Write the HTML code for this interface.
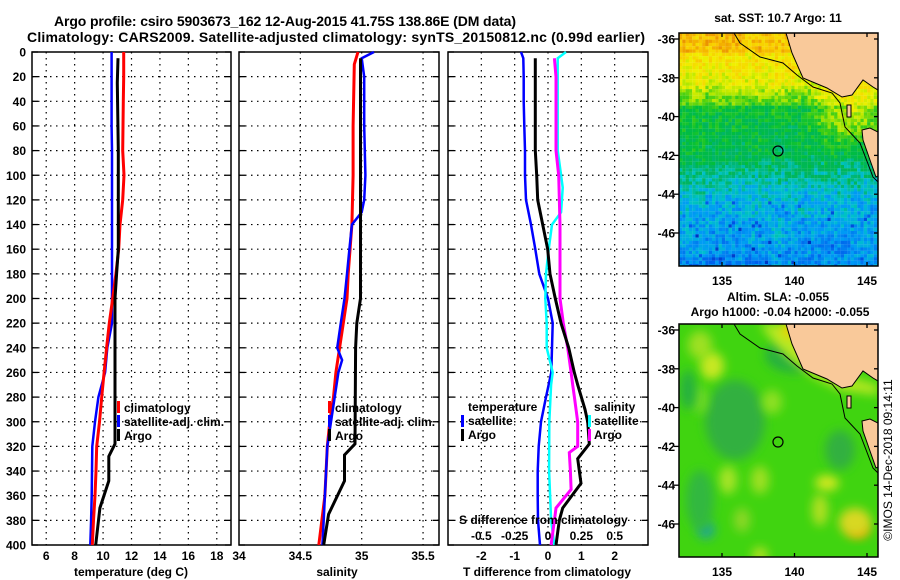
<!DOCTYPE html>
<html><head><meta charset="utf-8">
<style>
html,body{margin:0;padding:0;background:#fff;}
svg{display:block;font-family:"Liberation Sans",sans-serif;font-weight:bold;}
</style></head>
<body>
<svg id="fig" width="900" height="580" viewBox="0 0 900 580" xmlns="http://www.w3.org/2000/svg">
<rect width="900" height="580" fill="#fff"/>
<text x="285" y="26" font-size="14" text-anchor="middle" textLength="462">Argo profile: csiro 5903673_162 12-Aug-2015 41.75S 138.86E (DM data)</text>
<text x="336" y="42" font-size="14" text-anchor="middle" textLength="618">Climatology: CARS2009. Satellite-adjusted climatology: synTS_20150812.nc (0.99d earlier)</text>
<g id="panels"></g>
<g id="maps"></g>
</svg>
<script>
// ---------- depth axis ----------
const depthTicks = [0,20,40,60,80,100,120,140,160,180,200,220,240,260,280,300,320,340,360,380,400];
// ---------- panel 1: temperature ----------
const climTDepth = [0,20,40,60,80,100,120,140,160,180,200,220,240,260,280,300,320,340,360,380,400];
const climT = [11.45,11.45,11.42,11.4,11.38,11.47,11.38,11.19,11.1,10.9,10.68,10.44,10.25,10.07,9.9,9.75,9.55,9.5,9.43,9.33,9.24];
const satTDepth = [0,20,40,60,80,100,120,140,160,180,200,220,240,260,280,300,320,340,360,380,400];
const satT = [10.6,10.6,10.6,10.6,10.63,10.63,10.63,10.63,10.63,10.63,10.63,10.63,10.3,10.14,9.67,9.43,9.24,9.22,9.2,9.16,9.1];
const argoTDepth = [5,25,80,160,180,200,318,328,348,370,400];
const argoT = [11.05,11.0,11.07,11.07,10.95,10.84,10.84,10.4,10.4,9.78,9.48];
const tempTicks = [6,8,10,12,14,16,18];
// ---------- panel 2: salinity ----------
const climSDepth = [0,10,60,100,140,180,200,220,240,260,280,300,320,360,400];
const climS = [34.97,34.94,34.93,34.93,34.92,34.89,34.88,34.85,34.82,34.79,34.77,34.74,34.72,34.70,34.65];
const satSDepth = [0,5,20,60,100,120,130,140,160,180,200,220,240,250,260,280,300,320,340,380,400];
const satS = [35.1,35.0,35.02,35.02,35.03,35.02,35.0,34.92,34.90,34.88,34.86,34.83,34.80,34.84,34.81,34.78,34.75,34.72,34.71,34.69,34.68];
const argoSDepth = [5,60,200,220,240,318,327,348,375,400];
const argoS = [34.99,34.99,34.99,34.96,34.95,34.945,34.86,34.86,34.73,34.69];
const salTicks = [34.5,35,35.5];
// ---------- panel 3: differences ----------
const satTdDepth = [0,5,20,40,60,80,100,120,140,160,180,200,220,240,260,280,300,320,340,360,380,400];
const satTd = [-0.81,-0.74,-0.73,-0.73,-0.71,-0.69,-0.69,-0.66,-0.51,-0.38,-0.26,0,0.14,0.12,0.1,-0.06,-0.21,-0.28,-0.31,-0.31,-0.3,-0.24];
const argoTdDepth = [5,80,100,120,140,160,180,200,220,240,260,270,290,300,318,330,350,370,380,400];
const argoTd = [-0.38,-0.38,-0.34,-0.31,-0.16,-0.01,0.06,0.22,0.39,0.62,0.79,0.89,1.11,1.19,1.24,0.89,0.99,0.44,0.34,0.24];
const argoSdDepth = [5,20,80,100,140,200,220,240,260,270,280,300,320,325,340,355,370,380,400];
const argoSd = [0.048,0.06,0.06,0.08,0.09,0.09,0.115,0.148,0.173,0.185,0.198,0.223,0.223,0.16,0.168,0.173,0.06,0.048,0.023];
const satSdDepth = [0,5,20,80,100,110,130,140,160,180,200,220,240,260,270,300,340,380,400];
const satSd = [0.135,0.073,0.073,0.073,0.098,0.11,0.098,0.03,0.005,-0.015,-0.02,-0.01,-0.01,0.035,0.023,0.01,0.008,0.023,0.048];
const tdTicks = [-2,-1,0,1,2];
const sdTicks = [-0.5,-0.25,0,0.25,0.5];
const sdTickLabels = ['-0.5','-0.25','0','0.25','0.5'];

const NS='http://www.w3.org/2000/svg';
function mk(tag, attrs, parent){const e=document.createElementNS(NS,tag);for(const k in attrs)e.setAttribute(k,attrs[k]);parent.appendChild(e);return e;}
const TOP=52, BOT=545;
const yD = d => TOP + d*(BOT-TOP)/400;
const x1 = t => 32 + (t-5)*199/14;
const x2 = s => 239 + (s-34)*200/1.63;
const x3 = t => 448 + (t+3)*200/6;
const x3s = s => x3(s*4);
const panels = document.getElementById('panels');

function frame(name, L, R, vticks, vx){
  const g = mk('g',{},panels);
  
  
  depthTicks.forEach(d=>{
    if(d>0 && d<400) mk('line',{x1:L,x2:R,y1:yD(d),y2:yD(d),stroke:'#000','stroke-width':1.2,'stroke-dasharray':'1.5,4.5'},g);
    mk('line',{x1:L,x2:L+6,y1:yD(d),y2:yD(d),stroke:'#000','stroke-width':1.3},g);
    mk('line',{x1:R-6,x2:R,y1:yD(d),y2:yD(d),stroke:'#000','stroke-width':1.3},g);
  });
  vticks.forEach(v=>{
    const x=vx(v);
    mk('line',{x1:x,x2:x,y1:TOP,y2:BOT,stroke:'#000','stroke-width':1.2,'stroke-dasharray':'1.5,4.5'},g);
  });
  mk('rect',{x:L,y:TOP,width:R-L,height:BOT-TOP,fill:'none',stroke:'#000','stroke-width':1.5},g);
  return g;
}
function line(g, depths, vals, xf, color, w, name){
  const pts = depths.map((d,i)=>xf(vals[i]).toFixed(1)+','+yD(d).toFixed(1)).join(' ');
  const p = mk('polyline',{points:pts,fill:'none',stroke:color,'stroke-width':w,'stroke-linejoin':'miter'},g);
  
  
}
function txt(g,x,y,s,size,anchor,name){
  const t=mk('text',{x:x,y:y,'font-size':size,'text-anchor':anchor||'start'},g);
  t.textContent=s;
  
  
  return t;
}
const yl = mk('g',{},panels);


depthTicks.forEach(d=>{ txt(yl,26,yD(d)+4.5,String(d),12,'end','depth-tick-label'); });

// panel 1
const g1 = frame('temperature-panel',32,231,tempTicks,x1);
line(g1,satTDepth,satT,x1,'#0000ff',2.5,'satellite-temperature-line');
line(g1,climTDepth,climT,x1,'#ff0000',3,'climatology-temperature-line');
line(g1,argoTDepth,argoT,x1,'#000',3,'argo-temperature-line');
tempTicks.forEach(t=>txt(g1,x1(t),560,String(t),12,'middle','temperature-tick-label'));
txt(g1,131,576,'temperature (deg C)',12,'middle','x-axis-title-temperature');
[['#ff0000','climatology'],['#0000ff','satellite-adj. clim.'],['#000','Argo']].forEach((l,i)=>{
  const r=mk('rect',{x:117,y:401+i*14,width:3,height:12,fill:l[0]},g1);
  
  
  txt(g1,124,412+i*14,l[1],12,'start','legend-entry');
});

// panel 2
const g2 = frame('salinity-panel',239,439,salTicks,x2);
line(g2,climSDepth,climS,x2,'#ff0000',3,'climatology-salinity-line');
line(g2,satSDepth,satS,x2,'#0000ff',2.5,'satellite-salinity-line');
line(g2,argoSDepth,argoS,x2,'#000',3,'argo-salinity-line');
[34,34.5,35,35.5].forEach(s=>txt(g2,x2(s),560,String(s),12,'middle','salinity-tick-label'));
txt(g2,337,576,'salinity',12,'middle','x-axis-title-salinity');
[['#ff0000','climatology'],['#0000ff','satellite-adj. clim.'],['#000','Argo']].forEach((l,i)=>{
  const r=mk('rect',{x:328,y:401+i*14,width:3,height:12,fill:l[0]},g2);
  
  
  txt(g2,335,412+i*14,l[1],12,'start','legend-entry');
});

// panel 3
const g3 = frame('difference-panel',448,648,tdTicks,x3);
line(g3,satTdDepth,satTd,x3,'#0000ff',2.5,'satellite-temperature-difference-line');
line(g3,satSdDepth,satSd,x3s,'#00ffff',2.5,'satellite-salinity-difference-line');
line(g3,argoSdDepth,argoSd,x3s,'#ff00ff',3,'argo-salinity-difference-line');
line(g3,argoTdDepth,argoTd,x3,'#000',3,'argo-temperature-difference-line');
tdTicks.forEach(t=>txt(g3,x3(t),560,String(t),12,'middle','t-difference-tick-label'));
sdTicks.forEach((s,i)=>txt(g3,x3s(s),540,sdTickLabels[i],12,'middle','s-difference-tick-label'));
txt(g3,459,524,'S difference from climatology',12,'start','s-difference-axis-title');
txt(g3,547,576,'T difference from climatology',12,'middle','x-axis-title-difference');
txt(g3,468,411,'temperature',12,'start','legend-title-temperature');
txt(g3,594,411,'salinity',12,'start','legend-title-salinity');
[['#0000ff','satellite',461,468],['#000','Argo',461,468],['#00ffff','satellite',588,594],['#ff00ff','Argo',588,594]].forEach((l,i)=>{
  const row=(i%2);
  const r=mk('rect',{x:l[2],y:415+row*14,width:3,height:12,fill:l[0]},g3);
  
  
  txt(g3,l[3],425+row*14,l[1],12,'start','legend-entry');
});

// ---------- maps ----------
const maps = document.getElementById('maps');
const ML=679, MR=878;
const lonX = lo => 722 + (lo-135)*14.5;
const latTicks=[-36,-38,-40,-42,-44,-46];
const lonTicks=[135,140,145];
function hash(i,j){let h=(i*374761393+j*668265263)^0x5bd1e995;h=(h^(h>>>13))*1274126177;h=h^(h>>>16);return ((h>>>0)%1000)/1000;}
const pal=[[0.08,[0,30,170]],[0.2,[0,90,235]],[0.3,[0,155,245]],[0.38,[0,195,200]],[0.45,[0,180,100]],[0.52,[0,190,60]],[0.6,[60,205,20]],[0.68,[170,230,0]],[0.76,[240,240,0]],[0.86,[250,200,0]],[0.96,[230,130,0]]];
function col(v){v=Math.max(0.08,Math.min(0.96,v));for(let k=1;k<pal.length;k++){if(v<=pal[k][0]){const a=pal[k-1],b=pal[k];const f=(v-a[0])/(b[0]-a[0]);return 'rgb('+a[1].map((c,n)=>Math.round(c+(b[1][n]-c)*f)).join(',')+')';}}return 'rgb(230,130,0)';}
function land(dy){
  return [[[786,33],[792,53],[803,78],[827,88],[842,97],[852,95],[863,80],[873,87],[878,90],[878,33]],
          [[862,130],[870,128],[878,132],[878,176],[876,177],[870,160],[863,140]]]
         .map(p=>p.map(q=>q[0]+','+(q[1]+dy)).join(' '));
}
const shelf=[[734,33],[740,43],[760,57],[783,63],[797,75],[813,87],[832,93],[840,103],[845,127],[860,143],[873,177],[878,182]];
function mapFrame(name,T,B,title1,title2,fill){
  const g=mk('g',{},maps);
  
  
  const cp=mk('clipPath',{id:name+'-clip'},g);
  mk('rect',{x:ML,y:T,width:MR-ML,height:B-T},cp);
  const inner=mk('g',{'clip-path':'url(#'+name+'-clip)'},g);
  fill(inner,T,B);
  const dy=T-33;
  land(dy).forEach(p=>{const pl=mk('polygon',{points:p,fill:'#f9c99a',stroke:'#000','stroke-width':1},inner);});
  mk('polyline',{points:shelf.map(q=>q[0]+','+(q[1]+dy)).join(' '),fill:'none',stroke:'#000','stroke-width':1},inner);
  mk('rect',{x:847,y:105+dy,width:4,height:12,fill:'#f9c99a',stroke:'#000','stroke-width':1},inner);
  const c=mk('circle',{cx:778,cy:151+dy,r:5,fill:'none',stroke:'#000','stroke-width':1.2},g);
  
  
  mk('rect',{x:ML,y:T,width:MR-ML,height:B-T,fill:'none',stroke:'#000','stroke-width':1.5},g);
  latTicks.forEach(la=>{const y=T+6+(-36-la)*19.4;
    mk('line',{x1:ML-5,x2:ML,y1:y,y2:y,stroke:'#000','stroke-width':1.3},g);
    mk('line',{x1:MR-4,x2:MR,y1:y,y2:y,stroke:'#000','stroke-width':1.3},g);
    txt(g,675,y+4.5,String(la),12,'end','latitude-tick-label');});
  lonTicks.forEach(lo=>{const x=lonX(lo);
    mk('line',{x1:x,x2:x,y1:B-4,y2:B,stroke:'#000','stroke-width':1.3},g);
    mk('line',{x1:x,x2:x,y1:T,y2:T+4,stroke:'#000','stroke-width':1.3},g);
    txt(g,x,B+19,String(lo),12,'middle','longitude-tick-label');});
  if(title2){txt(g,778,T-23,title1,12,'middle','map-title');txt(g,780,T-8,title2,12,'middle','map-subtitle');}
  else txt(g,778,T-11,title1,12,'middle','map-title');
}
mapFrame('sst-map',33,266,'sat. SST: 10.7 Argo: 11',null,(g,T,B)=>{
  const cs=3.3;
  for(let j=0;j*cs<B-T;j++){for(let i=0;i*cs<MR-ML;i++){
    const f=(j*cs)/(B-T), xf=(i*cs)/(MR-ML);
    let v;
    if(f<0.08)v=0.86;else if(f<0.22)v=0.8-(f-0.08)*0.4;else if(f<0.3)v=0.72-(f-0.22)*1.5;else if(f<0.55)v=0.53-(f-0.3)*0.2;else if(f<0.7)v=0.47-(f-0.55)*0.8;else v=0.35-(f-0.7)*0.25;
    const coast=Math.max(0,0.25-Math.hypot(xf-0.85,(f-0.35)*1.3))*0.8;
    v+=coast+(hash(i,j)-0.5)*0.12+(hash(i>>2,j>>2)-0.5)*0.05;
    if(f>0.72&&hash(i+7,j+3)>0.96)v-=0.12;
    mk('rect',{x:ML+i*cs,y:T+j*cs,width:cs+0.1,height:cs+0.1,fill:col(v)},g);
  }}
});
mapFrame('sla-map',324,557,'Altim. SLA: -0.055','Argo h1000: -0.04 h2000: -0.055',(g,T,B)=>{
  const f=mk('filter',{id:'blur6',x:'-50%',y:'-50%',width:'200%',height:'200%'},g);
  mk('feGaussianBlur',{stdDeviation:5},f);
  mk('rect',{x:ML,y:T,width:MR-ML,height:B-T,fill:'#40d410'},g);
  const blobs=[[700,345,'#9ee020',12,14],[712,366,'#c8e820',12,14],[735,420,'#30b040',30,40],[700,400,'#70d828',8,14],[772,402,'#8ee020',10,12],[795,355,'#28b040',30,18],[728,480,'#a6e428',9,14],[760,480,'#9ee020',9,14],[827,483,'#d0e820',12,8],[820,510,'#b0e020',8,16],[706,530,'#20a890',9,9],[742,520,'#8cd828',8,12],[858,530,'#f0a000',11,8],[855,522,'#d8d820',16,14],[760,555,'#b0e020',8,8],[700,500,'#30b840',14,30],[840,450,'#30b040',15,20],[688,390,'#28b040',8,20]];
  blobs.forEach(b=>mk('ellipse',{cx:b[0],cy:b[1],rx:b[3],ry:b[4],fill:b[2],filter:'url(#blur6)'},g));
  mk('polygon',{points:'760,324 800,324 810,350 830,370 860,380 878,385 878,395 840,390 810,375 790,360 775,345',fill:'#b8e820',filter:'url(#blur6)'},g);
  mk('ellipse',{cx:790,cy:330,rx:8,ry:8,fill:'#f0d000',filter:'url(#blur6)'},g);
});
const cr=txt(maps,892,460,'©IMOS 14-Dec-2018 09:14:11',12,'middle','copyright-timestamp');
cr.setAttribute('transform','rotate(-90 892 460)');
cr.setAttribute('font-weight','normal');
</script>
</body></html>
